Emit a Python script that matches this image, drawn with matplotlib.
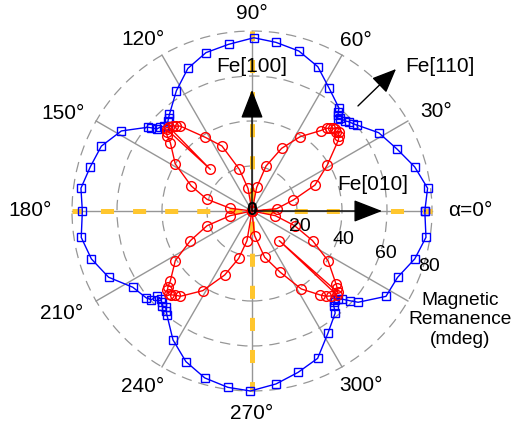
import numpy as np
import matplotlib
matplotlib.use('Agg')
import matplotlib.pyplot as plt
from matplotlib.patches import Circle

plt.rcParams['font.family'] = ['Liberation Sans', 'DejaVu Sans']
plt.rcParams['lines.scale_dashes'] = False

# blue: squares, angle (deg) and remanence (mdeg)
blue_theta = [0, 7.4, 15.2, 23.1, 31.7, 39.3, 40.8, 42.7, 44.2, 46.3, 47.2, 48.1, 49.0, 49.8,
              57.8, 65.5, 73.7, 81.9, 89.4, 98.0, 106.2, 114.2, 122.2, 130.5, 131.8, 133.2,
              134.6, 136.0, 137.6, 139.2, 140.4, 141.2, 148.5, 156.7, 164.7, 172.4, 180.0,
              188.8, 196.6, 204.8, 212.6, 219.5, 221.4, 221.9, 223.8, 225.2, 226.5, 228.0,
              229.5, 230.7, 238.5, 246.3, 254.2, 262.2, 269.5, 277.9, 285.9, 294.0, 301.9,
              309.2, 310.8, 312.0, 313.2, 314.3, 315.6, 317.6, 319.3, 327.5, 335.5, 343.6,
              351.4, 360.0]
blue_r = [76.8, 78.7, 74.9, 70.1, 66.2, 60.3, 59.4, 58.5, 57.5, 56.9, 56.0, 57.3, 58.4, 59.9,
          64.4, 70.5, 74.1, 75.7, 77.0, 74.8, 73.3, 69.5, 63.1, 56.5, 55.6, 54.6,
          53.2, 54.2, 55.3, 55.8, 58.0, 59.4, 68.1, 72.9, 74.5, 76.7, 75.4,
          76.8, 74.5, 70.2, 62.9, 60.8, 59.6, 56.7, 56.2, 57.0, 58.1, 57.4,
          58.6, 59.7, 67.2, 73.1, 77.1, 79.1, 80.0, 77.6, 74.6, 71.7, 63.9,
          58.5, 55.6, 54.4, 54.0, 54.7, 56.0, 59.2, 62.2, 70.6, 71.1, 75.4,
          78.2, 76.8]

# red: circles
red_theta = [0, 5.3, 14.9, 22.4, 31.4, 39.4, 41.0, 42.3, 43.4, 44.6, 45.8, 46.7, 48.0, 49.5,
             57.1, 64.7, 72.7, 78.8, 90, 100.0, 106.9, 114.8, 122.4, 130.2, 131.8, 133.0,
             134.7, 135.0, 136.2, 137.4, 138.6, 140.1, 148.5, 157.6, 165.4, 172.9, 180,
             192.0, 198.1, 205.7, 212.9, 220.5, 222.0, 223.2, 224.9, 226.2, 227.6, 230.0,
             238.3, 246.9, 254.3, 260.4, 270, 276.0, 285.3, 294.8, 302.3, 309.1, 311.0,
             313.0, 315.3, 312.6, 316.5, 317.8, 319.0, 326.8, 333.9, 341.0, 348.6, 360]
red_r = [0, 11.0, 19.0, 30.3, 39.2, 49.7, 51.0, 52.2, 51.3, 52.0, 51.4, 50.5, 49.5, 47.0,
         39.3, 30.8, 20.9, 10.7, 0, 10.2, 19.4, 31.8, 38.8, 49.4, 50.6, 51.8,
         52.7, 26.2, 52.4, 51.6, 50.2, 47.3, 40.0, 29.2, 20.7, 9.7, 0,
         9.9, 21.0, 30.4, 40.6, 47.7, 50.2, 51.6, 52.3, 51.7, 50.6, 49.5,
         41.6, 30.9, 21.9, 13.4, 0, 11.0, 21.3, 30.0, 41.0, 48.1, 50.2,
         51.6, 53.1, 17.9, 52.6, 51.2, 49.5, 40.4, 30.0, 20.0, 10.6, 0]

ring_vals = [20, 40, 60, 80]
spoke_angles = [0, 30, 60, 90, 120, 150, 180, 210, 240, 270, 300, 330]
angle_labels = ['90°', '60°', '30°', 'α=0°', '120°', '150°', '180°', '210°', '240°', '270°', '300°']
label_x = [0.0, 46.0, 82.0, 97.0, -48.5, -83.8, -98.7, -84.6, -48.6, 0.0, 48.6]
label_y = [87.6, 75.7, 44.0, 0.0, 76.0, 43.4, 0.0, -45.5, -78.1, -89.9, -77.6]

px = 2.25  # pixels per mdeg
fig = plt.figure(figsize=(5.17, 4.30), dpi=100)
ax = fig.add_axes([0, 0, 1, 1])
ax.set_xlim(-252 / px, (517 - 252) / px)
ax.set_ylim(-(430 - 211) / px, 211 / px)
ax.axis('off')

gray = '#969696'
for rv in ring_vals:
    ax.add_patch(Circle((0, 0), rv, fill=False, ec=gray, lw=0.9, ls=(0, (7.5, 5)), zorder=1))
for a in spoke_angles:
    t = np.deg2rad(a)
    ax.plot([0, 80 * np.cos(t)], [0, 80 * np.sin(t)], color=gray, lw=1.0, zorder=1)

# yellow dashed axes, dashes start from the centre
yel = '#FFC62E'
for a in [0, 90, 180, 270]:
    t = np.deg2rad(a)
    ax.plot([0, 80 * np.cos(t)], [0, 80 * np.sin(t)], color=yel, lw=3.6,
            ls=(15.8, (9.4, 13.7)), solid_capstyle='butt', zorder=2)

bt = np.deg2rad(blue_theta)
ax.plot(np.array(blue_r) * np.cos(bt), np.array(blue_r) * np.sin(bt), color='#0000FF', lw=1.0,
        marker='s', ms=5.8, mfc='none', mec='#0000FF', mew=1.0, zorder=3)
rt = np.deg2rad(red_theta)
ax.plot(np.array(red_r) * np.cos(rt), np.array(red_r) * np.sin(rt), color='#FF0000', lw=1.0,
        marker='o', ms=7.0, mfc='none', mec='#FF0000', mew=1.0, zorder=4)

ax.text(0, 0, '0', ha='center', va='center', fontsize=14, fontweight='bold', zorder=6)

for rv in ring_vals:
    t = np.deg2rad(-17.5)
    ax.text((rv + 2.5) * np.cos(t), (rv + 2.5) * np.sin(t), str(rv), ha='center', va='center',
            fontsize=14, zorder=5)
for s, x, y in zip(angle_labels, label_x, label_y):
    ax.text(x, y, s, ha='center', va='center', fontsize=15)

ax.text(92.3, -48.4, 'Magnetic\nRemanence\n(mdeg)', ha='center', va='center', fontsize=13.8,
        linespacing=1.2)

arrow = dict(arrowstyle='-|>,head_length=0.9,head_width=0.35', color='k', lw=1.0,
             mutation_scale=20, shrinkA=0, shrinkB=0)
ax.annotate('', xy=(0, 53.8), xytext=(0, 0), arrowprops=arrow, zorder=7)
ax.annotate('', xy=(57.8, 0), xytext=(0, 0), arrowprops=arrow, zorder=7)
arrow2 = dict(arrow, arrowstyle='-|>,head_length=0.75,head_width=0.32')
ax.annotate('', xy=(64.0, 63.1), xytext=(47.1, 46.7), arrowprops=arrow2, zorder=7)
ax.text(0, 64.4, 'Fe[100]', ha='center', va='center', fontsize=15)
ax.text(53.8, 11.6, 'Fe[010]', ha='center', va='center', fontsize=15)
ax.text(83.5, 64.4, 'Fe[110]', ha='center', va='center', fontsize=15)

plt.savefig('out.png', dpi=100)
plt.close()
